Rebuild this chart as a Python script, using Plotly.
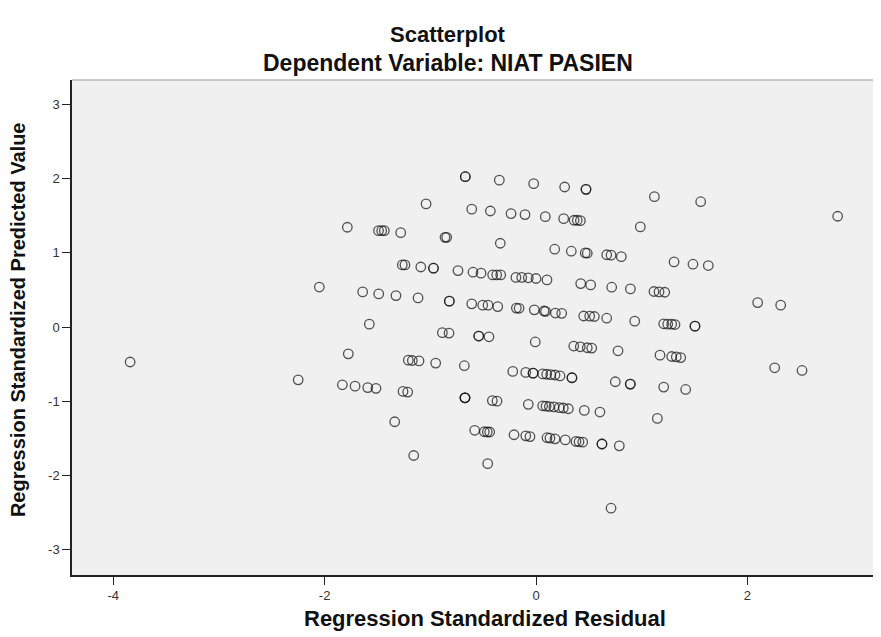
import plotly.graph_objects as go

# Regression Standardized Residual (x) and Regression Standardized Predicted Value (y)
residual = [
    -3.84, -2.25, -2.05,
    -0.669, -0.669, -0.347, -1.04, -0.608, -0.432, -0.236, -1.785,
    -1.49, -1.46, -1.435, -1.28, -0.861, -0.845, -0.338,
    -1.265, -1.24, -1.09, -0.97, -0.97, -0.738, -0.596, -0.52,
    -0.41, -0.372, -0.334, -1.64, -1.488, -1.325, -1.116, -0.82, -0.82,
    -0.608, -0.504, -0.454, -0.362, -1.577,
    -0.022, 0.271, 0.473, 0.473, 1.12, 1.558, -0.104, 0.088, 0.262,
    0.36, 0.39, 0.42, 0.987, 0.177, 0.334, 0.466, 0.485, 0.669, 0.71,
    0.807, 1.306, 1.485, 1.63, -0.19, -0.135, -0.073, 0.0, 0.104,
    0.423, 0.517, 0.716, 0.893, 1.116, 1.164, 1.218,
    -0.186, -0.16, -0.016, 0.076, 0.09, 0.183, 0.243,
    0.451, 0.508, 0.552, 0.669, 0.934, 1.208, 1.246, 1.284, 1.315,
    1.504, 1.504,
    2.854, 2.097, 2.315, 2.258, 2.517,
    -0.886, -0.823, -0.542, -0.542, -0.445, -1.776,
    -1.208, -1.17, -1.107, -0.949, -0.678, -0.22, -1.832, -1.712,
    -1.592, -1.514, -1.258, -1.214, -0.672, -0.672, -0.672,
    -0.413, -0.369, -1.337, -0.58, -0.489, -0.461, -0.438, -0.208,
    -1.157, -0.457,
    -0.007, 0.357, 0.419, 0.485, 0.527, 0.776, 1.173, 1.284, 1.327, 1.369,
    -0.097, -0.028, -0.028, 0.063, 0.101, 0.139, 0.18, 0.227, 0.34, 0.34,
    0.75, 0.892, 0.892, 1.208, 1.416,
    -0.073, 0.063, 0.095, 0.126, 0.17, 0.22, 0.258, 0.306, 0.457, 0.605,
    1.148, -0.097, -0.057, 0.104, 0.132, 0.18, 0.277, 0.378, 0.407, 0.442,
    0.624, 0.624, 0.788, 0.71,
]
predicted = [
    -0.47, -0.71, 0.54,
    2.027, 2.027, 1.98, 1.66, 1.59, 1.565, 1.53, 1.346,
    1.30, 1.30, 1.30, 1.273, 1.21, 1.21, 1.13,
    0.838, 0.838, 0.81, 0.794, 0.794, 0.762, 0.74, 0.727,
    0.704, 0.704, 0.704, 0.475, 0.448, 0.425, 0.394, 0.35, 0.35,
    0.314, 0.296, 0.296, 0.277, 0.04,
    1.933, 1.888, 1.857, 1.857, 1.758, 1.69, 1.516, 1.489, 1.462,
    1.44, 1.44, 1.435, 1.35, 1.05, 1.023, 1.0, 0.996, 0.975, 0.97,
    0.95, 0.879, 0.848, 0.83, 0.67, 0.67, 0.665, 0.655, 0.636,
    0.587, 0.569, 0.538, 0.515, 0.48, 0.475, 0.47,
    0.257, 0.254, 0.233, 0.217, 0.213, 0.19, 0.186,
    0.15, 0.148, 0.143, 0.12, 0.08, 0.045, 0.04, 0.04, 0.035,
    0.013, 0.013,
    1.494, 0.331, 0.296, -0.548, -0.584,
    -0.075, -0.08, -0.12, -0.12, -0.13, -0.36,
    -0.445, -0.45, -0.455, -0.485, -0.52, -0.597, -0.777, -0.795,
    -0.815, -0.825, -0.866, -0.875, -0.952, -0.952, -0.952,
    -0.99, -0.998, -1.275, -1.39, -1.41, -1.413, -1.413, -1.45,
    -1.73, -1.84,
    -0.2, -0.255, -0.265, -0.278, -0.282, -0.319, -0.378, -0.396, -0.4, -0.41,
    -0.61, -0.62, -0.62, -0.63, -0.635, -0.64, -0.645, -0.657, -0.682, -0.682,
    -0.736, -0.768, -0.768, -0.808, -0.84,
    -1.04, -1.06, -1.065, -1.07, -1.075, -1.085, -1.09, -1.1, -1.122, -1.144,
    -1.23, -1.465, -1.475, -1.49, -1.495, -1.505, -1.52, -1.54, -1.545, -1.55,
    -1.575, -1.575, -1.60, -2.44,
]

x_ticks = [-4, -2, 0, 2]
y_ticks = [-3, -2, -1, 0, 1, 2, 3]

title_main = "Scatterplot"
title_sub = "Dependent Variable: NIAT PASIEN"
x_title = "Regression Standardized Residual"
y_title = "Regression Standardized Predicted Value"

FONT = "Liberation Sans, Arial, sans-serif"

fig = go.Figure()
fig.add_trace(go.Scatter(
    x=residual, y=predicted, mode="markers",
    marker=dict(symbol="circle", size=9.5, color="rgba(0,0,0,0)",
                line=dict(color="rgba(20,20,20,0.72)", width=1.3)),
    hoverinfo="x+y", showlegend=False,
))

fig.update_layout(
    width=873, height=629,
    margin=dict(l=64, r=0, t=72, b=62),
    paper_bgcolor="white",
    plot_bgcolor="#F0F0F0",
    font=dict(family=FONT, color="#222"),
    xaxis=dict(range=[-4.39, 3.264], tickvals=x_ticks, ticktext=[str(v) for v in x_ticks],
               ticks="outside", ticklen=8, tickwidth=1.3, tickcolor="#222",
               showline=True, linecolor="#222", linewidth=1.5,
               showgrid=False, zeroline=False, tickfont=dict(size=13, color="#333")),
    yaxis=dict(range=[-3.34, 3.33], tickvals=y_ticks, ticktext=[str(v) for v in y_ticks],
               ticks="outside", ticklen=8, tickwidth=1.3, tickcolor="#222",
               showline=True, linecolor="#222", linewidth=1.5,
               showgrid=False, zeroline=False, tickfont=dict(size=13, color="#333")),
    shapes=[dict(type="line", xref="paper", yref="paper", x0=0, x1=1, y0=1, y1=1,
                 line=dict(color="#9a9a9a", width=1.2))],
    annotations=[
        dict(text="<b>%s</b>" % title_main, xref="paper", yref="paper", x=0.465, y=1.0,
             yshift=46, showarrow=False, xanchor="center", yanchor="middle",
             font=dict(size=22, family=FONT, color="#111")),
        dict(text="<b>%s</b>" % title_sub, xref="paper", yref="paper", x=0.465, y=1.0,
             yshift=17, showarrow=False, xanchor="center", yanchor="middle",
             font=dict(size=23, family=FONT, color="#111")),
        dict(text="<b>%s</b>" % x_title, xref="paper", yref="paper", x=0.51, y=0,
             yshift=-43, showarrow=False, xanchor="center", yanchor="middle",
             font=dict(size=22, family=FONT, color="#111")),
        dict(text="<b>%s</b>" % y_title, xref="paper", yref="paper", x=0, y=0.515,
             xshift=-54, showarrow=False, xanchor="center", yanchor="middle", textangle=-90,
             font=dict(size=20, family=FONT, color="#111")),
    ],
)

fig.write_html("out.html")
